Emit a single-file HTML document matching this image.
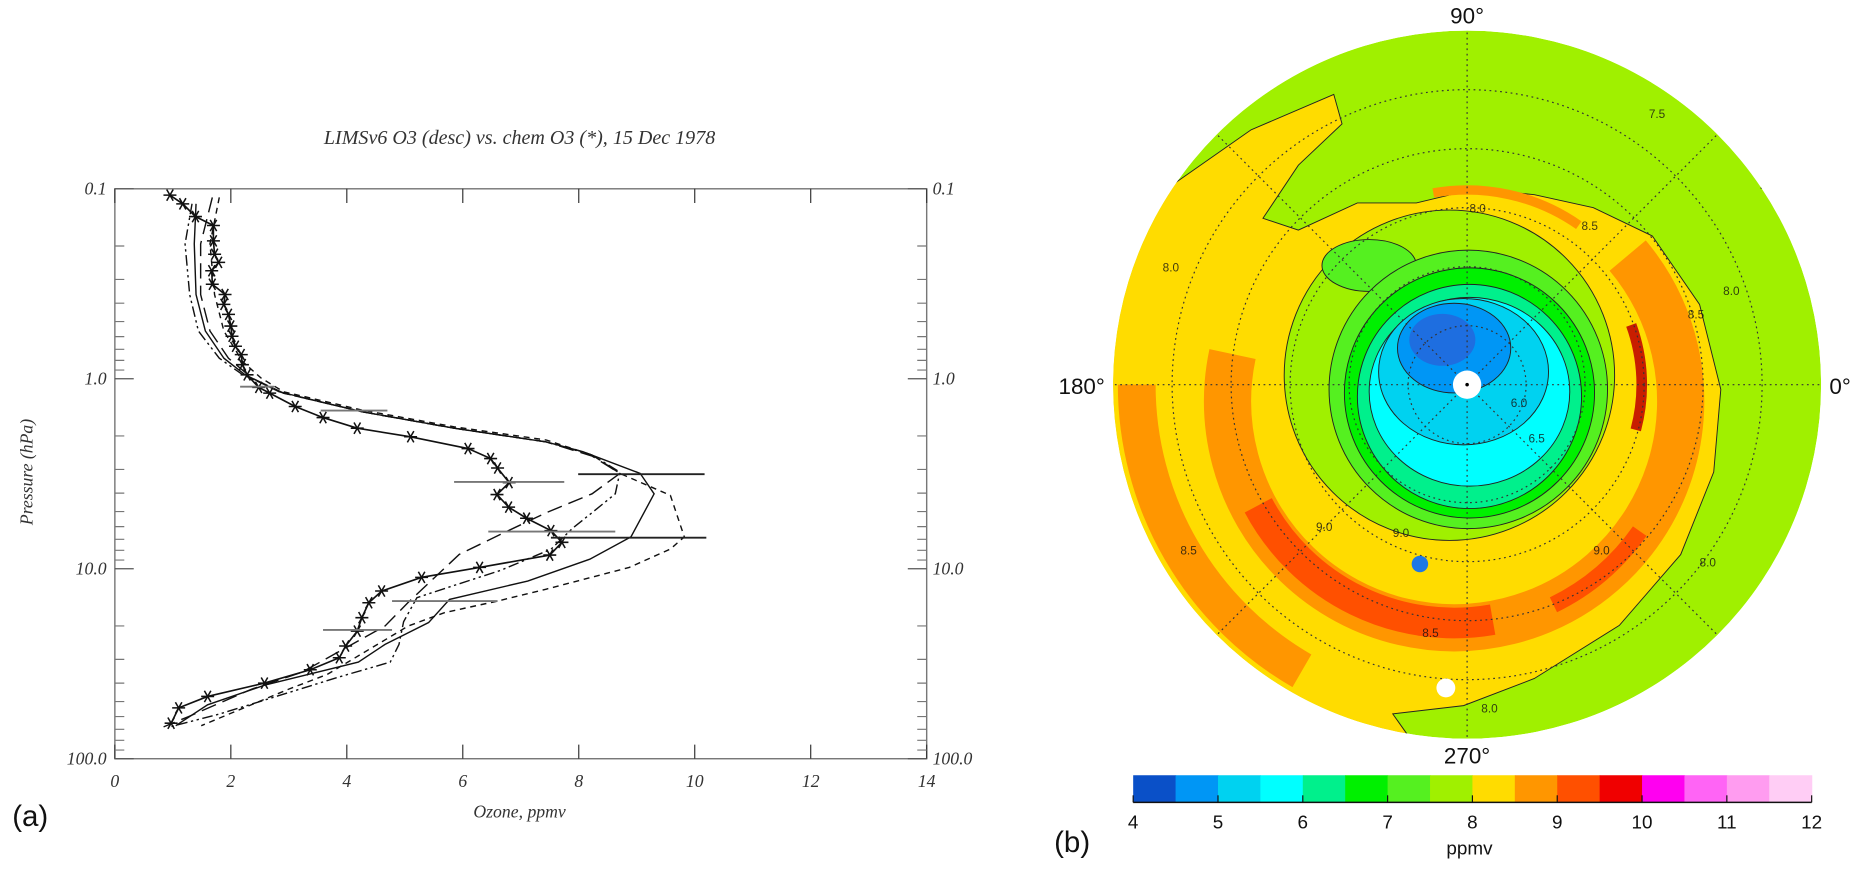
<!DOCTYPE html>
<html><head><meta charset="utf-8"><style>
html,body{margin:0;padding:0;background:#fff;width:1851px;height:872px;overflow:hidden}
svg{display:block}
.ax{font-family:"Liberation Serif","DejaVu Serif",serif;font-style:italic;fill:#333}
.sans{font-family:"Liberation Sans",sans-serif;fill:#111}
</style></head><body>
<svg id="fig" width="1851" height="872" viewBox="0 0 1568 739" xmlns="http://www.w3.org/2000/svg">
<g id="left"></g>
<g id="right"></g>
</svg>
<script>
// ===== Panel (a) data =====
const starOzone=[0.95,1.17,1.39,1.70,1.70,1.72,1.79,1.67,1.68,1.90,1.88,1.96,2.0,2.02,2.08,2.18,2.2,2.28,2.48,2.67,3.11,3.59,4.18,5.10,6.09,6.48,6.6,6.8,6.59,6.79,7.1,7.52,7.71,7.5,6.29,5.29,4.6,4.38,4.26,4.18,3.98,3.87,3.37,2.58,1.6,1.1,0.97];
const starPress=[0.108,0.12,0.14,0.156,0.188,0.221,0.244,0.27,0.318,0.36,0.406,0.458,0.528,0.597,0.674,0.746,0.843,0.953,1.11,1.19,1.4,1.6,1.82,2.02,2.33,2.63,2.95,3.52,4.07,4.74,5.42,6.3,7.26,8.47,9.84,11.1,13.1,15.1,18.1,21.3,25.5,29.4,34,40,47,54,65];
const solidOzone=[1.40,1.37,1.40,1.56,1.88,2.24,2.83,4.26,5.85,7.44,8.07,9.06,9.3,8.9,8.19,7.12,5.77,5.41,4.66,4.2,2.58,1.6,1.05];
const solidPress=[0.12,0.195,0.36,0.56,0.78,0.95,1.17,1.49,1.82,2.15,2.42,3.15,4.03,6.8,8.9,11.6,14.5,19.2,25,31,41,52,67];
const dashOzone=[1.8,1.64,1.72,1.88,2.2,2.52,2.91,4.26,5.85,7.44,8.23,8.71,9.58,9.82,9.58,8.87,7.44,6.6,5.69,5.06,3.66,3.0,1.49];
const dashPress=[0.111,0.195,0.36,0.56,0.81,0.99,1.17,1.46,1.79,2.1,2.52,3.15,4.11,6.8,7.87,9.84,12.8,14.8,17,20,36,43,67];
const longOzone=[1.68,1.48,1.48,1.64,1.96,2.36,2.91,4.26,5.85,7.44,8.23,8.71,8.23,7.44,6.65,5.94,5.53,5.06,4.66,3.23,2.36,1.27,0.84];
const longPress=[0.111,0.195,0.36,0.56,0.78,0.99,1.19,1.49,1.82,2.15,2.55,3.15,4.03,5.07,6.6,8.4,11,15,20,35,43,60,68];
const ddOzone=[1.33,1.21,1.29,1.44,1.8,2.2,2.91,4.26,5.85,7.44,8.23,8.71,8.63,8.23,7.9,7.52,6.65,5.94,5.21,4.98,4.9,4.75,3.88,1.82,0.95];
const ddPress=[0.12,0.195,0.36,0.56,0.78,0.95,1.19,1.49,1.82,2.15,2.52,3.1,4.03,5.07,6.1,7.9,10.2,12,14.2,19,25,31,37,58,68];
const errLo=[2.16,3.55,5.85,7.99,6.44,7.52,4.78,3.59];
const errHi=[2.75,4.70,7.75,10.17,8.63,10.2,6.6,4.78];
const errPress=[1.1,1.47,3.49,3.18,6.37,6.86,14.8,21];
const xTicks=[0,2,4,6,8,10,12,14];
const yTickLabels=["0.1","1.0","10.0","100.0"];
const yTickVals=[0.1,1,10,100];

const NS="http://www.w3.org/2000/svg";
function mk(tag,attrs,parent,text){const e=document.createElementNS(NS,tag);for(const k in attrs)e.setAttribute(k,attrs[k]);if(text!==undefined)e.textContent=text;parent.appendChild(e);return e;}
const L=document.getElementById('left');
const X0=97,X1=785,Y0=160,Y1=643;
const xs=v=>X0+v*(X1-X0)/14;
const ys=p=>Y0+(Math.log10(p)+1)*(Y1-Y0)/3;

let t=mk('text',{x:440,y:122,'text-anchor':'middle','font-size':17,class:'ax'},L,'LIMSv6 O3 (desc) vs. chem O3 (*), 15 Dec 1978');

let box=mk('rect',{x:X0,y:Y0,width:X1-X0,height:Y1-Y0,fill:'none',stroke:'#777','stroke-width':1.2},L);

xTicks.forEach(v=>{
  const tk=mk('path',{d:`M${xs(v)},${Y1}v-12M${xs(v)},${Y0}v12`,stroke:'#333','stroke-width':1},L);
  
  const lb=mk('text',{x:xs(v),y:Y1+24,'text-anchor':'middle','font-size':15,class:'ax'},L,String(v));
  
});
for(let d=-1;d<2;d++){for(let m=2;m<10;m++){const yy=ys(m*Math.pow(10,d));
  const mt=mk('path',{d:`M${X0},${yy}h8M${X1},${yy}h-8`,stroke:'#777','stroke-width':1},L);
  }}
yTickVals.forEach((p,i)=>{const yy=ys(p);
  const mt=mk('path',{d:`M${X0},${yy}h16M${X1},${yy}h-16`,stroke:'#555','stroke-width':1},L);
  
  const a=mk('text',{x:X0-7,y:yy+5,'text-anchor':'end','font-size':15,class:'ax'},L,yTickLabels[i]);
  
  const b=mk('text',{x:X1+5,y:yy+5,'text-anchor':'start','font-size':15,class:'ax'},L,yTickLabels[i]);
  
});
t=mk('text',{x:0,y:0,'text-anchor':'middle','font-size':15,class:'ax',transform:`translate(27,400) rotate(-90)`},L,'Pressure (hPa)');

t=mk('text',{x:440,y:693,'text-anchor':'middle','font-size':15,class:'ax'},L,'Ozone, ppmv');

t=mk('text',{x:10,y:700,'font-size':25,class:'sans'},L,'(a)');


function line(vals,press,dash,name,w){
  const d=vals.map((v,i)=>(i?'L':'M')+xs(v).toFixed(1)+','+ys(press[i]).toFixed(1)).join('');
  const e=mk('path',{d:d,fill:'none',stroke:'#111','stroke-width':w||1.2,'stroke-dasharray':dash},L);
  
}
line(solidOzone,solidPress,'none','lims-solid-line');
line(dashOzone,dashPress,'5,4','lims-dashed-line');
line(longOzone,longPress,'13,6','lims-long-dash-line');
line(ddOzone,ddPress,'9,3,2,3,2,3','lims-dash-dot-line');
line(starOzone,starPress,'none','chem-o3-line',1.4);
starOzone.forEach((v,i)=>{const cx=xs(v),cy=ys(starPress[i]),r=5.5;
  const s=mk('path',{d:`M${cx-r},${cy}h${2*r}M${cx-r*0.5},${cy-r*0.87}l${r},${r*1.74}M${cx+r*0.5},${cy-r*0.87}l${-r},${r*1.74}`,stroke:'#111','stroke-width':1.3},L);
  });
errLo.forEach((lo,i)=>{const e=mk('line',{x1:xs(lo),x2:xs(errHi[i]),y1:ys(errPress[i]),y2:ys(errPress[i]),stroke:i==3||i==5?'#222':'#777','stroke-width':1.6},L);
  });

// ===== Panel (b) =====
const cbLevels=[4,4.5,5,5.5,6,6.5,7,7.5,8,8.5,9,9.5,10,10.5,11,11.5,12];
const cbColors=['#0a50c8','#0096f5','#00d2f0','#00ffff','#00f08c','#00f000','#55f020','#a0f000','#ffdc00','#ff9600','#ff5000','#f00000','#ff00f0','#ff64f5','#ff9cf0','#ffcdf5'];
const cbLabels=[4,5,6,7,8,9,10,11,12];
const R=document.getElementById('right');
const CX=1243,CY=326,RAD=300;
function pol(a,r,cx,cy){cx=cx||CX;cy=cy||CY;const t=a*Math.PI/180;return [cx+r*Math.cos(t),cy-r*Math.sin(t)];}
function el(tag,attrs,name){const e=mk(tag,attrs,R);return e;}
const C=v=>cbColors[cbLevels.indexOf(v)];
mk('defs',{},R).innerHTML='<clipPath id="dc"><circle cx="1243" cy="326" r="300"/></clipPath>';
const G=mk('g',{'clip-path':'url(#dc)'},R);
function gel(tag,attrs,name){const e=mk(tag,attrs,G);return e;}
gel('circle',{cx:CX,cy:CY,r:RAD,fill:C(7.5)},'region-7.5-8');
gel('path',{d:'M997,154 L1060,110 L1130,80 L1137,105 L1100,140 L1070,185 L1100,195 L1150,172 L1200,172 L1250,160 L1300,165 L1350,176 L1400,200 L1440,258 L1458,330 L1452,400 L1424,470 L1372,530 L1300,575 L1240,598 L1180,605 L1192,622 L1060,640 L920,400 L940,200 Z',fill:C(8),stroke:'#222','stroke-width':0.8},'region-8-8.5');
// arc band from angle a1 to a2 (a2>a1, counterclockwise on screen)
function band(cx,cy,r,a1,a2,w,col,name){const p1=pol(a1,r,cx,cy),p2=pol(a2,r,cx,cy);const large=(a2-a1)>180?1:0;
  gel('path',{d:`M${p1[0]},${p1[1]} A${r},${r} 0 ${large} 0 ${p2[0]},${p2[1]}`,fill:'none',stroke:col,'stroke-width':w,'stroke-linecap':'butt'},name);}
band(CX,CY,280,180,240,32,C(8.5),'band-8.5-outer');
band(1232,340,192,168,400,40,C(8.5),'band-8.5-main');
band(1232,340,188,208,280,26,C(9),'band-9-red');
band(1232,340,192,296,325,14,C(9),'band-9-right');
band(1243,326,148,-15,20,9,'#c81e00','band-9.5-right');
band(1243,326,165,55,100,8,C(8.5),'band-8.5-top');
gel('circle',{cx:1228,cy:318,r:140,fill:C(7.5),stroke:'#222','stroke-width':0.8},'region-inner-7.5');
gel('ellipse',{cx:1160,cy:225,rx:40,ry:22,fill:C(7),stroke:'#222','stroke-width':0.8},'region-7-patch');
gel('circle',{cx:1244,cy:330,r:118,fill:C(7),stroke:'#222','stroke-width':0.8},'region-7-7.5');
gel('circle',{cx:1245,cy:333,r:106,fill:C(6.5),stroke:'#222','stroke-width':0.8},'region-6.5-7');
gel('circle',{cx:1245,cy:336,r:95,fill:C(6),stroke:'#222','stroke-width':0.8},'region-6-6.5');
gel('ellipse',{cx:1245,cy:332,rx:85,ry:80,fill:C(5.5),stroke:'#222','stroke-width':0.8},'region-5.5-6');
gel('ellipse',{cx:1240,cy:315,rx:72,ry:62,fill:C(5),stroke:'#222','stroke-width':0.8},'region-5-5.5');
gel('ellipse',{cx:1232,cy:295,rx:48,ry:38,fill:C(4.5),stroke:'#222','stroke-width':0.8},'region-4.5-5');
gel('ellipse',{cx:1222,cy:288,rx:28,ry:22,fill:'#1e6ee0'},'region-4-4.5');
[50,100,150,200,250].forEach(r=>gel('circle',{cx:CX,cy:CY,r:r,fill:'none',stroke:'#333','stroke-width':1,'stroke-dasharray':'1.5,3'},'grid-circle'));
[0,45,90,135,180,225,270,315].forEach(a=>{const p=pol(a,300);gel('line',{x1:CX,y1:CY,x2:p[0],y2:p[1],stroke:'#333','stroke-width':1,'stroke-dasharray':'1.5,3'},'grid-spoke');});
gel('circle',{cx:CX,cy:CY,r:12,fill:'#fff'},'pole-mask');
gel('circle',{cx:CX,cy:CY,r:1.5,fill:'#000'},'pole-point');
[['8.0',985,230],['8.5',1000,470],['9.0',1115,450],['9.0',1180,455],['9.0',1350,470],['8.5',1205,540],['8.0',1255,604],['8.0',1440,480],['8.5',1430,270],['8.0',1460,250],['7.5',1397,100],['7.5',1490,160],['8.0',1245,180],['8.5',1340,195],['6.5',1295,375],['6.0',1280,345]].forEach(d=>{
  gel('text',{x:d[1],y:d[2],'font-size':10,class:'sans','fill-opacity':0.8},'contour-label').textContent=d[0];});
el('circle',{cx:1203,cy:478,r:7,fill:'#1e78e6'},'blue-marker');
el('circle',{cx:1225,cy:583,r:8,fill:'#fff'},'white-marker');
[['90°',1243,20,'middle'],['180°',936,334,'end'],['0°',1550,334,'start'],['270°',1243,647,'middle']].forEach(d=>{
  const e=el('text',{x:d[1],y:d[2],'text-anchor':d[3],'font-size':19,class:'sans'},'angle-label');e.textContent=d[0];});
const CB0=960,CB1=1535,CBY=657,CBH=23;
const cx=v=>CB0+(v-4)*(CB1-CB0)/8;
cbColors.forEach((c,i)=>{el('rect',{x:cx(cbLevels[i]),y:CBY,width:cx(cbLevels[i+1])-cx(cbLevels[i])+0.5,height:CBH,fill:c},'colorbar-swatch');});
el('line',{x1:CB0,x2:CB1,y1:CBY+CBH,y2:CBY+CBH,stroke:'#111','stroke-width':1.2},'colorbar-axis');
cbLabels.forEach(v=>{el('line',{x1:cx(v),x2:cx(v),y1:CBY+CBH,y2:CBY+CBH-6,stroke:'#111','stroke-width':1},'colorbar-tick');
  const e=el('text',{x:cx(v),y:CBY+CBH+22,'text-anchor':'middle','font-size':16,class:'sans'},'colorbar-label');e.textContent=String(v);});
el('text',{x:1245,y:724,'text-anchor':'middle','font-size':16,class:'sans'},'colorbar-title').textContent='ppmv';
el('text',{x:893,y:722,'font-size':25,class:'sans'},'panel-label-b').textContent='(b)';
</script>
</body></html>
